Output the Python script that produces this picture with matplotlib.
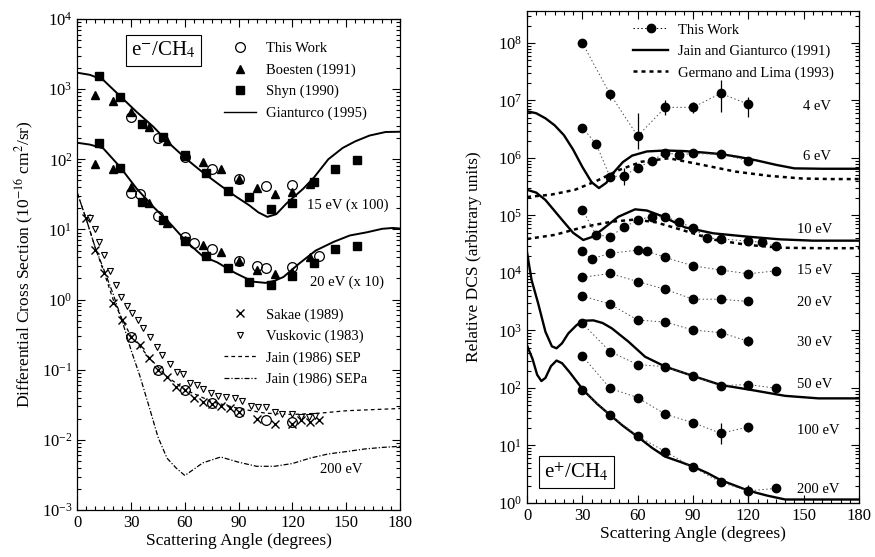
import numpy as np
import matplotlib
matplotlib.use("Agg")
import matplotlib.pyplot as plt
from matplotlib.lines import Line2D
from matplotlib.ticker import MultipleLocator, FixedLocator, LogLocator, NullFormatter

plt.rcParams['font.family'] = ['Liberation Serif', 'DejaVu Serif']
plt.rcParams['mathtext.fontset'] = 'stix'

# ---------------- Left panel data (e- / CH4) ----------------
# 15 eV (x100)
tw15_ang = [30, 45, 60, 75, 90, 105, 120]
tw15_val = [404, 203, 109, 72, 53, 41, 43]
bo15_ang = [10, 20, 30, 40, 50, 60, 70, 80, 90, 100, 110, 120, 130]
bo15_val = [825, 684, 476, 288, 184, 112, 90, 72, 53, 39, 32, 34, 45]
sh15_ang = [12, 24, 36, 48, 60, 72, 84, 96, 108, 120, 132, 144, 156]
sh15_val = [1550, 780, 318, 209, 117, 63, 35, 29, 19.5, 23.5, 47, 72, 97]
gi15_ang = [0, 7, 14.5, 23.8, 33, 42.4, 51.7, 61, 70, 80, 88, 96, 101, 106,
            111, 116.7, 126, 132, 140, 148, 155, 163, 172, 180]
gi15_val = [1714, 1600, 1350, 800, 476, 291, 165, 100, 65, 42, 30, 22, 17.5,
            15.1, 16.5, 23.5, 38, 55, 100, 145, 180, 218, 245, 247]
# 20 eV (x10)
tw20_ang = [30, 35, 45, 60, 65, 75, 90, 100, 105, 120, 135]
tw20_val = [33, 31.5, 15.5, 7.7, 6.4, 5.2, 3.5, 3.0, 2.83, 2.9, 4.2]
bo20_ang = [10, 20, 30, 40, 50, 60, 70, 80, 90, 100, 110, 120, 130]
bo20_val = [87, 72, 40, 23.5, 12.2, 7.0, 6.0, 4.7, 3.5, 2.6, 2.3, 2.5, 4.0]
sh20_ang = [12, 24, 36, 48, 60, 72, 84, 96, 108, 120, 132, 144, 156]
sh20_val = [172, 76, 25, 13.6, 6.9, 4.2, 2.83, 1.79, 1.6, 2.2, 3.3, 5.2, 5.8]
gi20_ang = [0, 7, 14.5, 23.8, 33, 42.4, 51.7, 61, 70.2, 78, 88, 98, 105, 110,
            115, 124, 133, 143, 152, 161.5, 170, 176, 180]
gi20_val = [172, 162, 143, 78, 38.5, 21, 12.2, 6.65, 4.1, 3.4, 2.4, 1.8, 1.73,
            1.85, 2.1, 3.3, 5.0, 6.65, 8.2, 9.1, 10.2, 10.5, 10.3]
# 200 eV
tw200_ang = [30, 45, 60, 75, 90, 105, 120]
tw200_val = [0.29, 0.10, 0.051, 0.033, 0.025, 0.019, 0.018]
sak_ang = [5, 10, 15, 20, 25, 30, 35, 40, 45, 50, 55, 60, 65, 70, 75, 80, 85,
           90, 100, 110, 120, 125, 130, 135]
sak_val = [14.4, 5.1, 2.4, 0.9, 0.51, 0.29, 0.224, 0.149, 0.10, 0.079, 0.057,
           0.051, 0.040, 0.0347, 0.0329, 0.0304, 0.0288, 0.025, 0.020, 0.017,
           0.0167, 0.019, 0.018, 0.0194]
vus_ang = [7, 10, 12.3, 15, 18.2, 21.4, 24.4, 27.5, 30.7, 33.6, 36.8, 40.5,
           44.6, 47.4, 51.7, 55.4, 59.1, 62.8, 66.5, 70, 74.3, 78.6, 83, 88,
           92, 97, 101, 105, 110, 114, 120, 125, 129, 132.6]
vus_val = [14.4, 10, 6.65, 4.3, 2.57, 1.6, 1.09, 0.8, 0.65, 0.51, 0.387, 0.288,
           0.21, 0.16, 0.122, 0.093, 0.086, 0.065, 0.060, 0.053, 0.046, 0.042,
           0.041, 0.039, 0.036, 0.030, 0.029, 0.029, 0.025, 0.0237, 0.023,
           0.021, 0.021, 0.022]
sep_ang = [0, 5, 10, 15, 20, 25, 30, 40, 50, 60, 75, 90, 105, 120, 135, 150,
           165, 180]
sep_val = [33, 14, 5.5, 2.4, 1.0, 0.52, 0.30, 0.15, 0.08, 0.052, 0.035, 0.028,
           0.024, 0.023, 0.024, 0.026, 0.027, 0.028]
sepa_ang = [0, 5, 10, 15, 20, 25, 30, 35, 40, 45, 50, 55, 60, 70, 80, 90, 100,
            110, 120, 130, 140, 150, 160, 170, 180]
sepa_val = [33, 14, 5.5, 2.6, 1.2, 0.5, 0.19, 0.08, 0.03, 0.011, 0.0055,
            0.0040, 0.0031, 0.0047, 0.0057, 0.0048, 0.0042, 0.0042, 0.0046,
            0.0055, 0.0063, 0.0068, 0.0074, 0.0078, 0.0081]

# ---------------- Right panel data (e+ / CH4) ----------------
p4_ang = [30, 45, 60, 75, 90, 105, 120]
p4_val = [1.0e8, 1.3e7, 2.4e6, 7.6e6, 7.6e6, 1.33e7, 8.6e6]
p4_lo = [1.0e8, 1.0e7, 1.45e6, 5.6e6, 6.0e6, 6.4e6, 5.2e6]
p4_hi = [1.0e8, 1.48e7, 6.0e6, 1.0e7, 9.5e6, 2.3e7, 1.17e7]
p6_ang = [30, 37.5, 45, 52.5, 60, 67.5, 75, 82.5, 90, 105, 120]
p6_val = [3.37e6, 1.75e6, 4.73e5, 4.9e5, 6.8e5, 8.9e5, 1.24e6, 1.13e6, 1.2e6,
          1.16e6, 9.0e5]
p6_lo = [3.37e6, 1.75e6, 4.73e5, 3.4e5, 6.8e5, 8.9e5, 1.24e6, 1.13e6, 1.2e6,
         1.16e6, 9.0e5]
p6_hi = [3.37e6, 1.75e6, 4.73e5, 6.6e5, 6.8e5, 8.9e5, 1.24e6, 1.13e6, 1.2e6,
         1.16e6, 9.0e5]
p10_ang = [30, 37.5, 45, 52.5, 60, 67.5, 75, 82.5, 90, 97.5, 105, 120, 127.5, 135]
p10_val = [1.27e5, 4.6e4, 4.3e4, 6.2e4, 8.4e4, 9.5e4, 9.5e4, 7.8e4, 6.0e4,
           4.1e4, 3.9e4, 3.6e4, 3.4e4, 2.9e4]
p15_ang = [30, 35, 45, 60, 65, 75, 90, 105, 120, 135]
p15_val = [2.4e4, 1.75e4, 2.2e4, 2.5e4, 2.4e4, 1.87e4, 1.33e4, 1.13e4, 9.7e3, 1.09e4]
p20_ang = [30, 45, 60, 75, 90, 105, 120]
p20_val = [8.4e3, 9.8e3, 7.1e3, 5.2e3, 3.5e3, 3.5e3, 3.2e3]
p30_ang = [30, 45, 60, 75, 90, 105, 120]
p30_val = [4.0e3, 2.88e3, 1.52e3, 1.4e3, 1.02e3, 9.2e2, 6.5e2]
p30_lo = [4.0e3, 2.88e3, 1.52e3, 1.4e3, 1.02e3, 7.3e2, 5.4e2]
p30_hi = [4.0e3, 2.88e3, 1.52e3, 1.4e3, 1.02e3, 1.09e3, 7.9e2]
p50_ang = [30, 45, 60, 75, 90, 105, 120, 135]
p50_val = [1.33e3, 430, 255, 235, 162, 110, 115, 99]
p100_ang = [30, 45, 60, 75, 90, 105, 120]
p100_val = [361, 99, 68, 35, 25, 16.3, 21]
p100_lo = [361, 99, 68, 35, 25, 10.6, 17.4]
p100_hi = [361, 99, 68, 35, 25, 24.5, 25]
p200_ang = [30, 45, 60, 75, 90, 105, 120, 135]
p200_val = [92, 34, 14.6, 7.8, 4.2, 2.3, 1.62, 1.8]
p200_lo = [92, 34, 14.6, 7.8, 4.2, 2.3, 0.87, 1.55]
p200_hi = [92, 34, 14.6, 7.8, 4.2, 2.3, 2.05, 2.1]

jg6_ang = [0, 5, 10, 15, 20, 25, 30, 35, 39, 43, 47, 52, 57, 65, 75, 85, 95,
           105, 115, 125, 135, 145, 160, 180]
jg6_val = [6.5e6, 6.0e6, 4.9e6, 3.7e6, 2.5e6, 1.4e6, 7.0e5, 3.8e5, 3.0e5,
           3.7e5, 5.6e5, 8.5e5, 1.1e6, 1.3e6, 1.35e6, 1.32e6, 1.25e6, 1.17e6,
           1.04e6, 9.0e5, 7.6e5, 6.6e5, 6.5e5, 6.5e5]
gl6_ang = [0, 13, 26, 37, 50, 62, 77, 95, 113, 131, 149, 165, 180]
gl6_val = [2.1e5, 2.3e5, 2.8e5, 3.9e5, 6.2e5, 8.6e5, 9.9e5, 7.6e5, 5.8e5,
           4.9e5, 4.4e5, 4.3e5, 4.3e5]
jg10_ang = [0, 5, 10, 19, 25, 30.5, 35, 40.5, 49.5, 58.6, 65, 73, 85.7, 101,
            119, 137, 155, 180]
jg10_val = [2.8e5, 2.5e5, 1.86e5, 8.4e4, 5.0e4, 3.75e4, 4.2e4, 5.6e4, 9.5e4,
            1.28e5, 1.22e5, 9.8e4, 6.2e4, 4.9e4, 4.3e4, 3.85e4, 3.65e4, 3.65e4]
gl10_ang = [0, 15, 31.5, 46, 58.6, 70, 85.7, 101, 119, 137, 160, 180]
gl10_val = [3.9e4, 4.6e4, 6.4e4, 7.8e4, 8.5e4, 7.6e4, 5.4e4, 3.8e4, 3.1e4,
            2.75e4, 2.7e4, 2.7e4]
jg50_ang = [0, 2.5, 6, 10, 13.5, 16, 19, 22.4, 27, 31, 36, 41, 46, 55, 64, 75,
            90, 105, 122, 140, 158, 180]
jg50_val = [2.3e4, 7.5e3, 3.0e3, 9.5e2, 5.3e2, 4.9e2, 6.0e2, 8.9e2, 1.25e3,
            1.48e3, 1.5e3, 1.35e3, 1.09e3, 6.4e2, 3.5e2, 2.35e2, 1.62e2,
            1.13e2, 9.2e1, 7.3e1, 6.6e1, 6.6e1]
jg200_ang = [0, 3, 5.5, 7.8, 10, 13, 16, 19, 23, 30.5, 38, 45, 52, 60, 68, 75,
             83, 90, 98, 105, 113, 120, 130, 140, 160, 180]
jg200_val = [5.5e2, 3.2e2, 1.7e2, 1.32e2, 1.5e2, 2.4e2, 3.0e2, 2.7e2, 1.9e2,
             9.2e1, 5.3e1, 3.4e1, 2.2e1, 1.42e1, 9.0, 6.4, 5.2, 4.3, 3.3, 2.5,
             2.0, 1.64, 1.35, 1.15, 1.15, 1.15]

left_yticks = [1e-3, 1e-2, 1e-1, 1e0, 1e1, 1e2, 1e3, 1e4]
right_yticks = [1e0, 1e1, 1e2, 1e3, 1e4, 1e5, 1e6, 1e7, 1e8]
x_ticks = [0, 30, 60, 90, 120, 150, 180]

# ---------------- Figure ----------------
W, H = 875, 557
fig = plt.figure(figsize=(W / 100, H / 100), dpi=100)
ax1 = fig.add_axes([77.3 / W, 1 - 510 / H, (400 - 77.3) / W, (510 - 19) / H])
ax2 = fig.add_axes([527 / W, 1 - 503 / H, (859 - 527) / W, (503 - 11) / H])

FS_TICK = 12
FS_LAB = 12.5
FS_TXT = 10.5


def style_axis(ax, ylo, yhi, yticks):
    ax.set_xlim(0, 180)
    ax.set_yscale('log')
    ax.set_ylim(ylo, yhi)
    ax.xaxis.set_major_locator(FixedLocator(x_ticks))
    ax.xaxis.set_minor_locator(MultipleLocator(5))
    ax.yaxis.set_major_locator(FixedLocator(yticks))
    ax.yaxis.set_minor_locator(LogLocator(base=10, subs=np.arange(2, 10), numticks=50))
    ax.yaxis.set_minor_formatter(NullFormatter())
    ax.tick_params(which='both', direction='in', top=True, right=True,
                   labelsize=FS_TICK, width=0.8)
    ax.tick_params(which='major', length=6)
    ax.tick_params(which='minor', length=3)
    for s in ax.spines.values():
        s.set_linewidth(0.9)
    ax.set_xlabel('Scattering Angle (degrees)', fontsize=FS_LAB, labelpad=1.5)


# ---- left panel ----
ax = ax1
style_axis(ax, 1e-3, 1e4, left_yticks)
ax.plot(gi15_ang, gi15_val, '-', color='black', lw=1.4)
ax.plot(gi20_ang, gi20_val, '-', color='black', lw=1.4)
ax.plot(sep_ang, sep_val, color='black', lw=0.9, ls=(0, (3, 2.5)))
ax.plot(sepa_ang, sepa_val, color='black', lw=0.9, ls=(0, (4, 1.5, 1, 1.5)))
for a, v in [(bo15_ang, bo15_val), (bo20_ang, bo20_val)]:
    ax.plot(a, v, '^', color='black', ms=5.5, ls='none')
for a, v in [(sh15_ang, sh15_val), (sh20_ang, sh20_val)]:
    ax.plot(a, v, 's', color='black', ms=5.5, ls='none')
ax.plot(sak_ang, sak_val, 'x', color='black', ms=6, mew=1.0, ls='none')
ax.plot(vus_ang, vus_val, 'v', mfc='white', mec='black', ms=5, mew=0.8, ls='none')
for a, v in [(tw15_ang, tw15_val), (tw20_ang, tw20_val), (tw200_ang, tw200_val)]:
    ax.plot(a, v, 'o', mfc='none', mec='black', ms=7, mew=0.9, ls='none')
ax.set_ylabel('Differential Cross Section (10$^{-16}$ cm$^2$/sr)', fontsize=FS_LAB,
              labelpad=4)

ax.text(0.266, 0.936, 'e$^{-}$/CH$_4$', transform=ax.transAxes, fontsize=15,
        ha='center', va='center',
        bbox=dict(boxstyle='square,pad=0.25', fc='white', ec='black', lw=0.8))
ax.text(150.9, 22.2, '15 eV (x 100)', fontsize=FS_TXT, ha='center', va='center')
ax.text(150.3, 1.77, '20 eV (x 10)', fontsize=FS_TXT, ha='center', va='center')
ax.text(147.5, 0.0038, '200 eV', fontsize=FS_TXT, ha='center', va='center')

h1 = [Line2D([], [], marker='o', mfc='none', mec='black', ms=7, mew=0.9, ls='none'),
      Line2D([], [], marker='^', color='black', ms=5.5, ls='none'),
      Line2D([], [], marker='s', color='black', ms=5.5, ls='none'),
      Line2D([], [], color='black', lw=1.0)]
leg1 = ax.legend(h1, ['This Work', 'Boesten (1991)', 'Shyn (1990)', 'Gianturco (1995)'],
                 loc='upper left', bbox_to_anchor=(0.455, 0.953), frameon=False,
                 fontsize=FS_TXT, handlelength=2.2, handletextpad=0.7,
                 labelspacing=0.55, borderpad=0, borderaxespad=0)
ax.add_artist(leg1)
h2 = [Line2D([], [], marker='x', color='black', ms=6, mew=1.0, ls='none'),
      Line2D([], [], marker='v', mfc='white', mec='black', ms=5, mew=0.8, ls='none'),
      Line2D([], [], color='black', lw=0.9, ls=(0, (3, 2.5))),
      Line2D([], [], color='black', lw=0.9, ls=(0, (4, 1.5, 1, 1.5)))]
ax.legend(h2, ['Sakae (1989)', 'Vuskovic (1983)', 'Jain (1986) SEP', 'Jain (1986) SEPa'],
          loc='upper left', bbox_to_anchor=(0.455, 0.411), frameon=False,
          fontsize=FS_TXT, handlelength=2.2, handletextpad=0.7,
          labelspacing=0.55, borderpad=0, borderaxespad=0)

# ---- right panel ----
ax = ax2
style_axis(ax, 1.0, 3.6e8, right_yticks)
ax.plot(jg6_ang, jg6_val, '-', color='black', lw=1.7)
ax.plot(jg10_ang, jg10_val, '-', color='black', lw=1.7)
ax.plot(jg50_ang, jg50_val, '-', color='black', lw=1.7)
ax.plot(jg200_ang, jg200_val, '-', color='black', lw=1.7)
ax.plot(gl6_ang, gl6_val, color='black', lw=1.8, ls=(0, (1.6, 1.6)))
ax.plot(gl10_ang, gl10_val, color='black', lw=1.8, ls=(0, (1.6, 1.6)))

rows = [(p4_ang, p4_val, p4_lo, p4_hi), (p6_ang, p6_val, p6_lo, p6_hi),
        (p10_ang, p10_val, None, None), (p15_ang, p15_val, None, None),
        (p20_ang, p20_val, None, None), (p30_ang, p30_val, p30_lo, p30_hi),
        (p50_ang, p50_val, None, None), (p100_ang, p100_val, p100_lo, p100_hi),
        (p200_ang, p200_val, p200_lo, p200_hi)]
for a, v, lo, hi in rows:
    v = np.array(v)
    ax.plot(a, v, color='0.3', lw=0.7, ls=(0, (1.5, 2.5)))
    if lo is not None:
        yerr = [v - np.array(lo), np.array(hi) - v]
        ax.errorbar(a, v, yerr=yerr, fmt='none', ecolor='black', elinewidth=0.9,
                    capsize=0)
    ax.plot(a, v, 'o', color='black', ms=6, ls='none')

ax.set_ylabel('Relative DCS (arbitrary units)', fontsize=FS_LAB, labelpad=11)
ax.text(0.148, 0.063, 'e$^{+}$/CH$_4$', transform=ax.transAxes, fontsize=15,
        ha='center', va='center',
        bbox=dict(boxstyle='square,pad=0.25', fc='white', ec='black', lw=0.8))
lab_txt = ['4 eV', '6 eV', '10 eV', '15 eV', '20 eV', '30 eV', '50 eV', '100 eV', '200 eV']
lab_y = [8.0e6, 1.08e6, 5.6e4, 1.1e4, 3.04e3, 630, 113, 17.9, 1.75]
lab_x = [149.5, 149.5, 146.5, 146.5, 146.5, 146.5, 146.5, 146.5, 146.5]
for t, x, y in zip(lab_txt, lab_x, lab_y):
    ax.text(x, y, t, fontsize=FS_TXT, ha='left', va='center')

h3 = [Line2D([], [], marker='o', color='black', ms=6, lw=0.7, ls=(0, (1.5, 2.5))),
      Line2D([], [], color='black', lw=1.7),
      Line2D([], [], color='black', lw=1.8, ls=(0, (1.6, 1.6)))]
ax.legend(h3, ['This Work', 'Jain and Gianturco (1991)', 'Germano and Lima (1993)'],
          loc='upper left', bbox_to_anchor=(0.32, 0.975), frameon=False,
          fontsize=FS_TXT, handlelength=2.4, handletextpad=0.7,
          labelspacing=0.55, borderpad=0, borderaxespad=0)

fig.savefig('out.png', dpi=100)
